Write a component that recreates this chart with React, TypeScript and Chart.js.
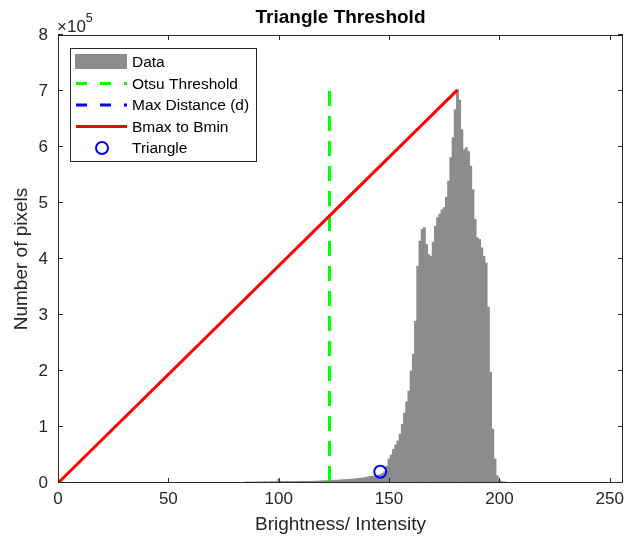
import React, { useEffect, useRef } from "react";
import { Chart, registerables } from "chart.js";

Chart.register(...registerables);

// ---------- data ----------
const histStart = 85; // first brightness bin that holds pixels
const histCounts = [
  // 85-99
  1800, 2000, 1500, 2200, 1800, 2000, 2300, 1900, 2100, 2400, 2000, 2200, 2500, 2300, 2600,
  // 100
  7000,
  // 101-117
  2800, 2500, 2700, 3000, 2600, 2900, 2800, 3100, 2700, 3000, 3200, 2900, 3100, 3300, 3000, 3400, 3200,
  // 118-130
  3600, 3900, 4200, 4000, 4500, 4800, 4600, 5000, 5300, 5100, 5600, 5900, 6200,
  // 131-139
  6500, 6800, 7000, 7300, 7600, 8000, 8500, 9000, 9600,
  // 140-149
  10500, 11500, 12000, 12500, 13000, 14000, 15000, 17000, 20000, 30000,
  // 150-164
  43000, 50000, 60000, 68000, 75000, 87000, 105000, 125000, 145000, 164000, 200000, 230000, 289000, 387000, 432000,
  // 165-181
  453000, 456000, 426000, 408000, 405000, 430000, 459000, 474000, 480000, 488000, 492000, 510000, 539000, 581000, 617000, 667000, 702000,
  // 182-199
  684000, 631000, 595000, 599000, 592000, 566000, 524000, 471000, 438000, 435000, 420000, 405000, 393000, 314000, 198000, 96000, 43000, 13000,
  // 200-205
  5000, 3000, 2000, 1500, 1000, 500,
];
const otsuThreshold = 123;
const otsuTop = 700000;
const bMin = 0;
const bMinCount = 0;
const bMax = 181;
const bMaxCount = 702000;
const triangleX = 146;
const triangleY = 20000;

const xTicks = [0, 50, 100, 150, 200, 250];
const yTicks = [0, 100000, 200000, 300000, 400000, 500000, 600000, 700000, 800000];
const yTickLabels = ["0", "1", "2", "3", "4", "5", "6", "7", "8"];
const seriesLabels = ["Data", "Otsu Threshold", "Max Distance (d)", "Bmax to Bmin", "Triangle"];
const titleText = "Triangle Threshold";
const xTitle = "Brightness/ Intensity";
const yTitle = "Number of pixels";

// ---------- style ----------
const GRAY = "rgb(140,140,140)";
const GREEN = "#00ff00";
const BLUE = "#0000ff";
const RED = "#ff0000";
const AXIS = "#262626";
const FONT = "'Liberation Sans', Arial, Helvetica, sans-serif";

const decorPlugin = {
  id: "matlabDecor",
  afterDraw(chart: any) {
    const ctx: CanvasRenderingContext2D = chart.ctx;
    const { left, right, top, bottom } = chart.chartArea;
    const xs = chart.scales.x;
    const ys = chart.scales.y;
    ctx.save();

    // box
    ctx.strokeStyle = AXIS;
    ctx.lineWidth = 1;
    ctx.strokeRect(Math.round(left) + 0.5, Math.round(top) + 0.5, Math.round(right - left) - 1, Math.round(bottom - top) - 1);

    // ticks
    const tl = 5;
    ctx.beginPath();
    xTicks.forEach((v) => {
      const px = Math.round(xs.getPixelForValue(v)) + 0.5;
      ctx.moveTo(px, bottom);
      ctx.lineTo(px, bottom - tl);
      ctx.moveTo(px, top);
      ctx.lineTo(px, top + tl);
    });
    yTicks.forEach((v) => {
      const py = Math.round(ys.getPixelForValue(v)) - 0.5;
      ctx.moveTo(left, py);
      ctx.lineTo(left + tl, py);
      ctx.moveTo(right, py);
      ctx.lineTo(right - tl, py);
    });
    ctx.stroke();

    // tick labels
    ctx.fillStyle = AXIS;
    ctx.font = `17px ${FONT}`;
    ctx.textAlign = "center";
    ctx.textBaseline = "middle";
    xTicks.forEach((v) => {
      ctx.fillText(String(v), xs.getPixelForValue(v), bottom + 16);
    });
    ctx.textAlign = "right";
    yTicks.forEach((v, i) => {
      ctx.fillText(yTickLabels[i], left - 10, ys.getPixelForValue(v));
    });

    // exponent
    ctx.textAlign = "left";
    ctx.textBaseline = "alphabetic";
    ctx.font = `17px ${FONT}`;
    ctx.fillText("\u00d710", left - 1, top - 3);
    const w = ctx.measureText("\u00d710").width;
    ctx.font = `12.5px ${FONT}`;
    ctx.fillText("5", left - 1 + w, top - 13);

    // title
    ctx.fillStyle = "#000";
    ctx.font = `bold 19px ${FONT}`;
    ctx.textAlign = "center";
    ctx.textBaseline = "middle";
    ctx.fillText(titleText, (left + right) / 2, 18);

    // axis titles
    ctx.fillStyle = AXIS;
    ctx.font = `19px ${FONT}`;
    ctx.fillText(xTitle, (left + right) / 2, bottom + 42);
    ctx.save();
    ctx.translate(22, (top + bottom) / 2);
    ctx.rotate(-Math.PI / 2);
    ctx.fillText(yTitle, 0, 0);
    ctx.restore();

    // legend
    const lx = 70.5, ly = 48.5, lw = 186, lh = 113;
    ctx.fillStyle = "#fff";
    ctx.fillRect(lx, ly, lw, lh);
    ctx.strokeStyle = AXIS;
    ctx.lineWidth = 1;
    ctx.strokeRect(lx, ly, lw, lh);
    const rows = [62, 83.5, 105, 126.5, 148];
    const sx0 = 76, sx1 = 127, tx = 132;
    const ds = chart.data.datasets;
    ctx.fillStyle = ds[0].backgroundColor;
    ctx.fillRect(75, 54, 52, 15);
    [1, 2].forEach((k) => {
      ctx.save();
      ctx.strokeStyle = ds[k].borderColor;
      ctx.lineWidth = 3;
      ctx.setLineDash([11, 13]);
      ctx.beginPath();
      ctx.moveTo(sx0, rows[k]);
      ctx.lineTo(sx1, rows[k]);
      ctx.stroke();
      ctx.restore();
    });
    ctx.strokeStyle = ds[3].borderColor;
    ctx.lineWidth = 3;
    ctx.beginPath();
    ctx.moveTo(sx0, rows[3]);
    ctx.lineTo(sx1, rows[3]);
    ctx.stroke();
    ctx.strokeStyle = ds[4].pointBorderColor;
    ctx.lineWidth = 2;
    ctx.beginPath();
    ctx.arc(102, rows[4], 6, 0, Math.PI * 2);
    ctx.stroke();
    ctx.fillStyle = "#000";
    ctx.font = `15.5px ${FONT}`;
    ctx.textAlign = "left";
    ctx.textBaseline = "middle";
    ds.forEach((d: any, i: number) => {
      ctx.fillText(d.label, tx, rows[i] + 1);
    });

    ctx.restore();
  },
};

export default function App() {
  const ref = useRef<HTMLCanvasElement>(null);

  useEffect(() => {
    document.body.style.margin = "0";
    const canvas = ref.current;
    if (!canvas) return;
    const barData = histCounts.map((v, i) => ({ x: histStart + i, y: v }));
    const chart = new Chart(canvas, {
      type: "bar",
      data: {
        datasets: [
          {
            type: "bar",
            label: seriesLabels[0],
            data: barData as any,
            backgroundColor: GRAY,
            borderWidth: 0,
            barPercentage: 1,
            categoryPercentage: 1,
            order: 10,
          } as any,
          {
            type: "line",
            label: seriesLabels[1],
            data: [
              { x: otsuThreshold, y: otsuTop },
              { x: otsuThreshold, y: 0 },
            ],
            borderColor: GREEN,
            borderWidth: 3,
            borderDash: [15, 10],
            pointRadius: 0,
            fill: false,
            order: 2,
          } as any,
          {
            type: "line",
            label: seriesLabels[2],
            data: [],
            borderColor: BLUE,
            borderWidth: 3,
            borderDash: [15, 10],
            pointRadius: 0,
            fill: false,
            order: 2,
          } as any,
          {
            type: "line",
            label: seriesLabels[3],
            data: [
              { x: bMin, y: bMinCount },
              { x: bMax, y: bMaxCount },
            ],
            borderColor: RED,
            borderWidth: 3,
            pointRadius: 0,
            fill: false,
            order: 1,
          } as any,
          {
            type: "line",
            label: seriesLabels[4],
            data: [{ x: triangleX, y: triangleY }],
            showLine: false,
            pointStyle: "circle",
            pointRadius: 6,
            pointBorderWidth: 2,
            pointBorderColor: BLUE,
            pointBackgroundColor: "rgba(0,0,0,0)",
            order: 0,
          } as any,
        ],
      },
      options: {
        responsive: false,
        animation: false,
        events: [],
        layout: { autoPadding: false, padding: { top: 35, right: 3, left: 0, bottom: 0 } },
        plugins: {
          legend: { display: false },
          tooltip: { enabled: false },
          title: { display: false },
        },
        scales: {
          x: {
            type: "linear",
            min: 0,
            max: 256,
            offset: false,
            grid: { display: false, drawTicks: false },
            border: { display: false },
            ticks: { display: false },
            afterFit: (s: any) => {
              s.height = 56;
              s.paddingLeft = 0;
              s.paddingRight = 0;
            },
          },
          y: {
            type: "linear",
            min: 0,
            max: 800000,
            grid: { display: false, drawTicks: false },
            border: { display: false },
            ticks: { display: false },
            afterFit: (s: any) => {
              s.width = 58;
              s.paddingTop = 0;
              s.paddingBottom = 0;
            },
          },
        },
      },
      plugins: [decorPlugin],
    });
    return () => chart.destroy();
  }, []);

  return (
    <canvas
      ref={ref}
      width={626}
      height={539}
      style={{ display: "block", width: 626, height: 539, background: "#fff" }}
    />
  );
}
